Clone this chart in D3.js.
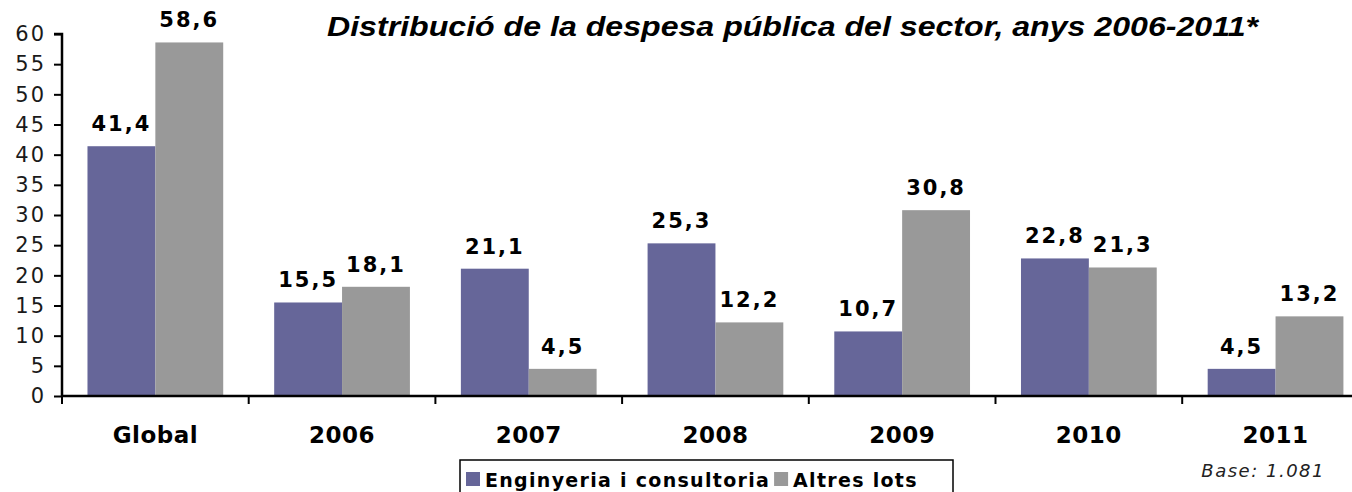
<!DOCTYPE html>
<html>
<head>
<meta charset="utf-8">
<script src="https://cdn.jsdelivr.net/npm/d3@7"></script>
<style>
  body { margin: 0; background: #fff; }
  svg { display: block; }
</style>
</head>
<body>
<svg id="chart" width="1352" height="492"></svg>
<script>
const categories = ['Global', '2006', '2007', '2008', '2009', '2010', '2011'];
const seriesNames = ['Enginyeria i consultoria', 'Altres lots'];
const enginyeria = [41.4, 15.5, 21.1, 25.3, 10.7, 22.8, 4.5];
const altres = [58.6, 18.1, 4.5, 12.2, 30.8, 21.3, 13.2];
const yTicks = [0, 5, 10, 15, 20, 25, 30, 35, 40, 45, 50, 55, 60];
const colors = ['#666699', '#999999'];
const title = 'Distribució de la despesa pública del sector, anys 2006-2011*';
const baseNote = 'Base: 1.081';

const svg = d3.select('#chart');
const axisLeft = 62, zeroY = 396, topY = 34;
const step = 186.7;
const verdana = 'DejaVu Sans, Verdana, sans-serif';

let xScale = d3.scaleBand()
    .domain(categories)
    .range([axisLeft, axisLeft + step * categories.length])
    .paddingInner(0.273)
    .paddingOuter(0.1365);
let xSub = d3.scaleBand()
    .domain(seriesNames)
    .range([0, xScale.bandwidth()]);
let yScale = d3.scaleLinear()
    .domain([0, 60])
    .range([zeroY, topY]);

const fmt = v => v.toFixed(1).replace('.', ',');

// bars
const rows = categories.map((c, i) => ({cat: c, vals: [enginyeria[i], altres[i]]}));
const groups = svg.selectAll('g.grp')
    .data(rows)
    .enter().append('g')
    .attr('class', 'grp')
    .attr('transform', d => `translate(${xScale(d.cat)},0)`);

groups.selectAll('rect')
    .data(d => d.vals.map((v, k) => ({v: v, k: k})))
    .enter().append('rect')
    .attr('x', d => xSub(seriesNames[d.k]))
    .attr('y', d => yScale(d.v))
    .attr('width', xSub.bandwidth())
    .attr('height', d => zeroY - yScale(d.v))
    .attr('fill', d => colors[d.k]);

groups.selectAll('text')
    .data(d => d.vals.map((v, k) => ({v: v, k: k})))
    .enter().append('text')
    .attr('x', d => xSub(seriesNames[d.k]) + xSub.bandwidth() / 2)
    .attr('y', d => yScale(d.v) - 15)
    .attr('text-anchor', 'middle')
    .style('font-family', verdana)
    .style('font-weight', 'bold')
    .style('font-size', '21px')
    .style('letter-spacing', '2px')
    .attr('fill', '#000')
    .text(d => fmt(d.v));

// y axis
const yAxis = d3.axisLeft(yScale)
    .tickValues(yTicks)
    .tickSize(8)
    .tickPadding(8);
const yG = svg.append('g')
    .attr('transform', `translate(${axisLeft},0)`)
    .call(yAxis);
yG.attr('font-size', null);
yG.select('.domain').attr('stroke', '#000').attr('stroke-width', 2.5)
    .attr('d', `M-8,${topY}H0V${zeroY}`);
yG.selectAll('.tick line').attr('stroke', '#000').attr('stroke-width', 2);
yG.selectAll('.tick text')
    .style('font-family', verdana)
    .style('font-size', '21px')
    .style('letter-spacing', '2px')
    .attr('fill', '#1a1a1a');

// x axis
const xAxis = d3.axisBottom(xScale).tickSize(0).tickFormat('');
const xG = svg.append('g')
    .attr('transform', `translate(0,${zeroY})`)
    .call(xAxis);
xG.select('.domain').attr('stroke', '#000').attr('stroke-width', 2.5)
    .attr('d', `M${axisLeft},0H1352`);
// category boundary ticks
const bounds = d3.range(categories.length).map(i => axisLeft + i * step);
xG.selectAll('line.bnd')
    .data(bounds)
    .enter().append('line')
    .attr('class', 'bnd')
    .attr('x1', d => d).attr('x2', d => d)
    .attr('y1', 0).attr('y2', 8)
    .attr('stroke', '#000').attr('stroke-width', 2);
xG.selectAll('text.cat')
    .data(categories)
    .enter().append('text')
    .attr('class', 'cat')
    .attr('x', d => xScale(d) + xScale.bandwidth() / 2)
    .attr('y', 47)
    .attr('text-anchor', 'middle')
    .style('font-family', verdana)
    .style('font-weight', 'bold')
    .style('font-size', '23px')
    .style('letter-spacing', '0.5px')
    .attr('fill', '#000')
    .text(d => d);

// title
svg.append('text')
    .attr('x', 327)
    .attr('y', 36)
    .attr('textLength', 931)
    .attr('lengthAdjust', 'spacingAndGlyphs')
    .style('font-family', '"Liberation Sans Narrow", "Arial Narrow", "Liberation Sans", Arial, sans-serif')
    .style('font-weight', 'bold')
    .style('font-style', 'italic')
    .style('font-size', '28px')
    .text(title);

// legend
const legend = svg.append('g').attr('transform', 'translate(460,460)');
legend.append('rect')
    .attr('x', 0).attr('y', 0)
    .attr('width', 493).attr('height', 40)
    .attr('fill', '#fff').attr('stroke', '#000').attr('stroke-width', 1.5);
let lx = 6;
seriesNames.forEach((name, k) => {
    legend.append('rect')
        .attr('x', lx).attr('y', 12)
        .attr('width', 14).attr('height', 14)
        .attr('fill', colors[k]);
    const t = legend.append('text')
        .attr('x', lx + 19).attr('y', 27)
        .style('font-family', verdana)
        .style('font-weight', 'bold')
        .style('font-size', '19px')
        .style('letter-spacing', '1.3px')
        .text(name);
    lx += 19 + t.node().getComputedTextLength() + 4;
});

// base note
svg.append('text')
    .attr('x', 1325)
    .attr('y', 477)
    .attr('text-anchor', 'end')
    .style('font-family', verdana)
    .style('font-style', 'italic')
    .style('font-size', '18px')
    .style('letter-spacing', '1.5px')
    .attr('fill', '#222')
    .text(baseNote);
</script>
</body>
</html>
